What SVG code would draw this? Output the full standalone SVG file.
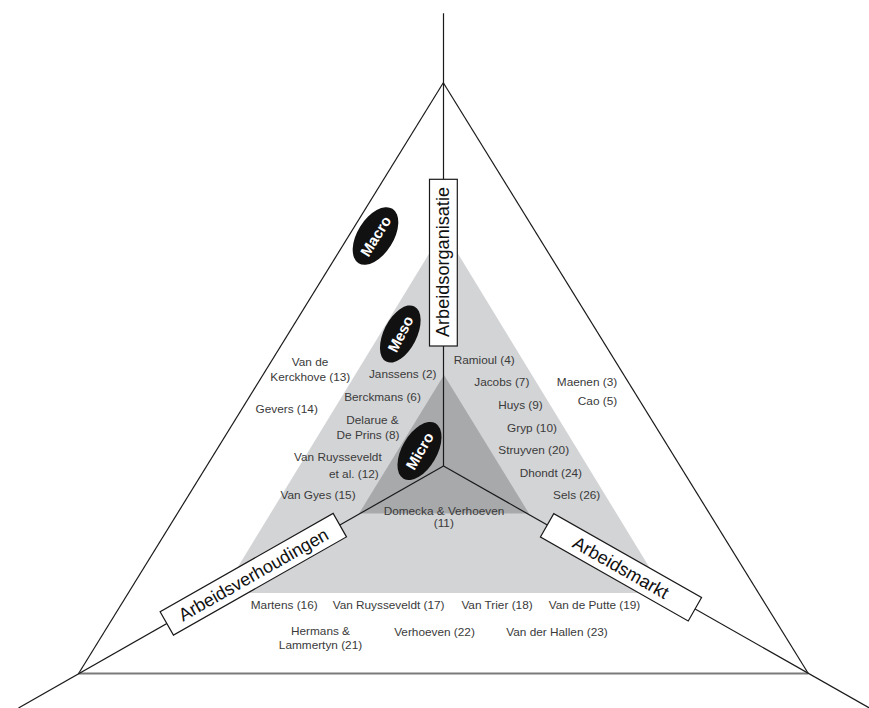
<svg xmlns="http://www.w3.org/2000/svg" width="869" height="708" viewBox="0 0 869 708">
  <style>
    .edge { stroke: #1a1a1a; stroke-width: 1.2; fill: none; }
    .base { stroke: #7a7a7a; stroke-width: 2; fill: none; }
    .axis { stroke: #1a1a1a; stroke-width: 1.2; fill: none; }
    .box { fill: #ffffff; stroke: #1a1a1a; stroke-width: 1.2; }
    .boxtxt { font-family: "Liberation Sans", Arial, sans-serif; font-size: 18px; fill: #111; text-anchor: middle; }
    .lvl { fill: #111; }
    .lvltxt { font-family: "Liberation Sans", Arial, sans-serif; font-size: 15px; font-weight: bold; fill: #ffffff; text-anchor: middle; }
    .lbl { font-family: "Liberation Sans", Arial, sans-serif; font-size: 11.8px; fill: #3a3a3a; text-anchor: middle; }
  </style>
  <rect x="0" y="0" width="869" height="708" fill="#ffffff"/>

  <g id="outer-triangle">
    <line class="edge" x1="443.3" y1="82.7" x2="78.3" y2="674"/>
    <line class="edge" x1="443.3" y1="82.7" x2="808.3" y2="673.5"/>
    <line class="base" x1="78.3" y1="673.5" x2="808.3" y2="673.5"/>
  </g>

  <g id="meso-area">
    <polygon points="443.5,230 222,593 665,593" fill="#d3d4d6"/>
  </g>
  <g id="micro-area">
    <polygon points="444,375 359,513.5 529,513.5" fill="#a8a9ab"/>
  </g>

  <g id="connectors">
    <line class="axis" x1="443.5" y1="13.3" x2="443.5" y2="466"/>
    <line class="axis" x1="443.5" y1="466" x2="18.5" y2="708"/>
    <line class="axis" x1="443.5" y1="466" x2="869" y2="707.8"/>
  </g>

  <g id="axis-arbeidsorganisatie">
    <rect class="box" x="429.5" y="179.3" width="27.8" height="166.7"/>
    <text class="boxtxt" transform="translate(443.4,262) rotate(-90)" x="0" y="6" textLength="150" lengthAdjust="spacingAndGlyphs">Arbeidsorganisatie</text>
  </g>
  <g id="axis-arbeidsverhoudingen" transform="translate(253.3,574.3) rotate(-29.6)">
    <rect class="box" x="-99.5" y="-13.5" width="199" height="27"/>
    <text class="boxtxt" x="0" y="6.5" textLength="169" lengthAdjust="spacingAndGlyphs">Arbeidsverhoudingen</text>
  </g>
  <g id="axis-arbeidsmarkt" transform="translate(621,567.3) rotate(29.6)">
    <rect class="box" x="-85" y="-13.5" width="170" height="27"/>
    <text class="boxtxt" x="0" y="6.5" textLength="107" lengthAdjust="spacingAndGlyphs">Arbeidsmarkt</text>
  </g>

  <g id="level-macro" transform="translate(375.5,236) rotate(-58)">
    <ellipse class="lvl" cx="0" cy="0" rx="32" ry="18"/>
    <text class="lvltxt" x="0" y="5.5">Macro</text>
  </g>
  <g id="level-meso" transform="translate(400.3,334) rotate(-63)">
    <ellipse class="lvl" cx="0" cy="0" rx="31" ry="16.5"/>
    <text class="lvltxt" x="0" y="5.5">Meso</text>
  </g>
  <g id="level-micro" transform="translate(419.5,451) rotate(-60)">
    <ellipse class="lvl" cx="0" cy="0" rx="32" ry="17.5"/>
    <text class="lvltxt" x="0" y="5.5">Micro</text>
  </g>

  <g id="labels-left">
    <text class="lbl" x="310" y="365.7">Van de</text>
    <text class="lbl" x="310.3" y="380.7">Kerckhove (13)</text>
    <text class="lbl" x="286.7" y="413.3">Gevers (14)</text>
    <text class="lbl" x="402.7" y="378">Janssens (2)</text>
    <text class="lbl" x="382.5" y="401.3">Berckmans (6)</text>
    <text class="lbl" x="372.5" y="424">Delarue &amp;</text>
    <text class="lbl" x="368" y="439.3">De Prins (8)</text>
    <text class="lbl" x="337.9" y="461.3">Van Ruysseveldt</text>
    <text class="lbl" x="353.9" y="478">et al. (12)</text>
    <text class="lbl" x="318" y="499.3">Van Gyes (15)</text>
  </g>

  <g id="labels-right">
    <text class="lbl" x="484.2" y="364">Ramioul (4)</text>
    <text class="lbl" x="501.8" y="386.3">Jacobs (7)</text>
    <text class="lbl" x="587" y="386.3">Maenen (3)</text>
    <text class="lbl" x="597.5" y="404.7">Cao (5)</text>
    <text class="lbl" x="520.5" y="409">Huys (9)</text>
    <text class="lbl" x="532" y="431.7">Gryp (10)</text>
    <text class="lbl" x="533.7" y="454">Struyven (20)</text>
    <text class="lbl" x="550.8" y="476.7">Dhondt (24)</text>
    <text class="lbl" x="576.7" y="499">Sels (26)</text>
  </g>

  <g id="labels-center">
    <text class="lbl" x="444" y="514.7">Domecka &amp; Verhoeven</text>
    <text class="lbl" x="443.8" y="527.3">(11)</text>
  </g>

  <g id="labels-bottom">
    <text class="lbl" x="284.2" y="609">Martens (16)</text>
    <text class="lbl" x="388.6" y="609">Van Ruysseveldt (17)</text>
    <text class="lbl" x="497" y="609">Van Trier (18)</text>
    <text class="lbl" x="594.5" y="609">Van de Putte (19)</text>
    <text class="lbl" x="320.5" y="634.7">Hermans &amp;</text>
    <text class="lbl" x="320.5" y="649">Lammertyn (21)</text>
    <text class="lbl" x="434.5" y="635.7">Verhoeven (22)</text>
    <text class="lbl" x="557" y="635.7">Van der Hallen (23)</text>
  </g>
</svg>
